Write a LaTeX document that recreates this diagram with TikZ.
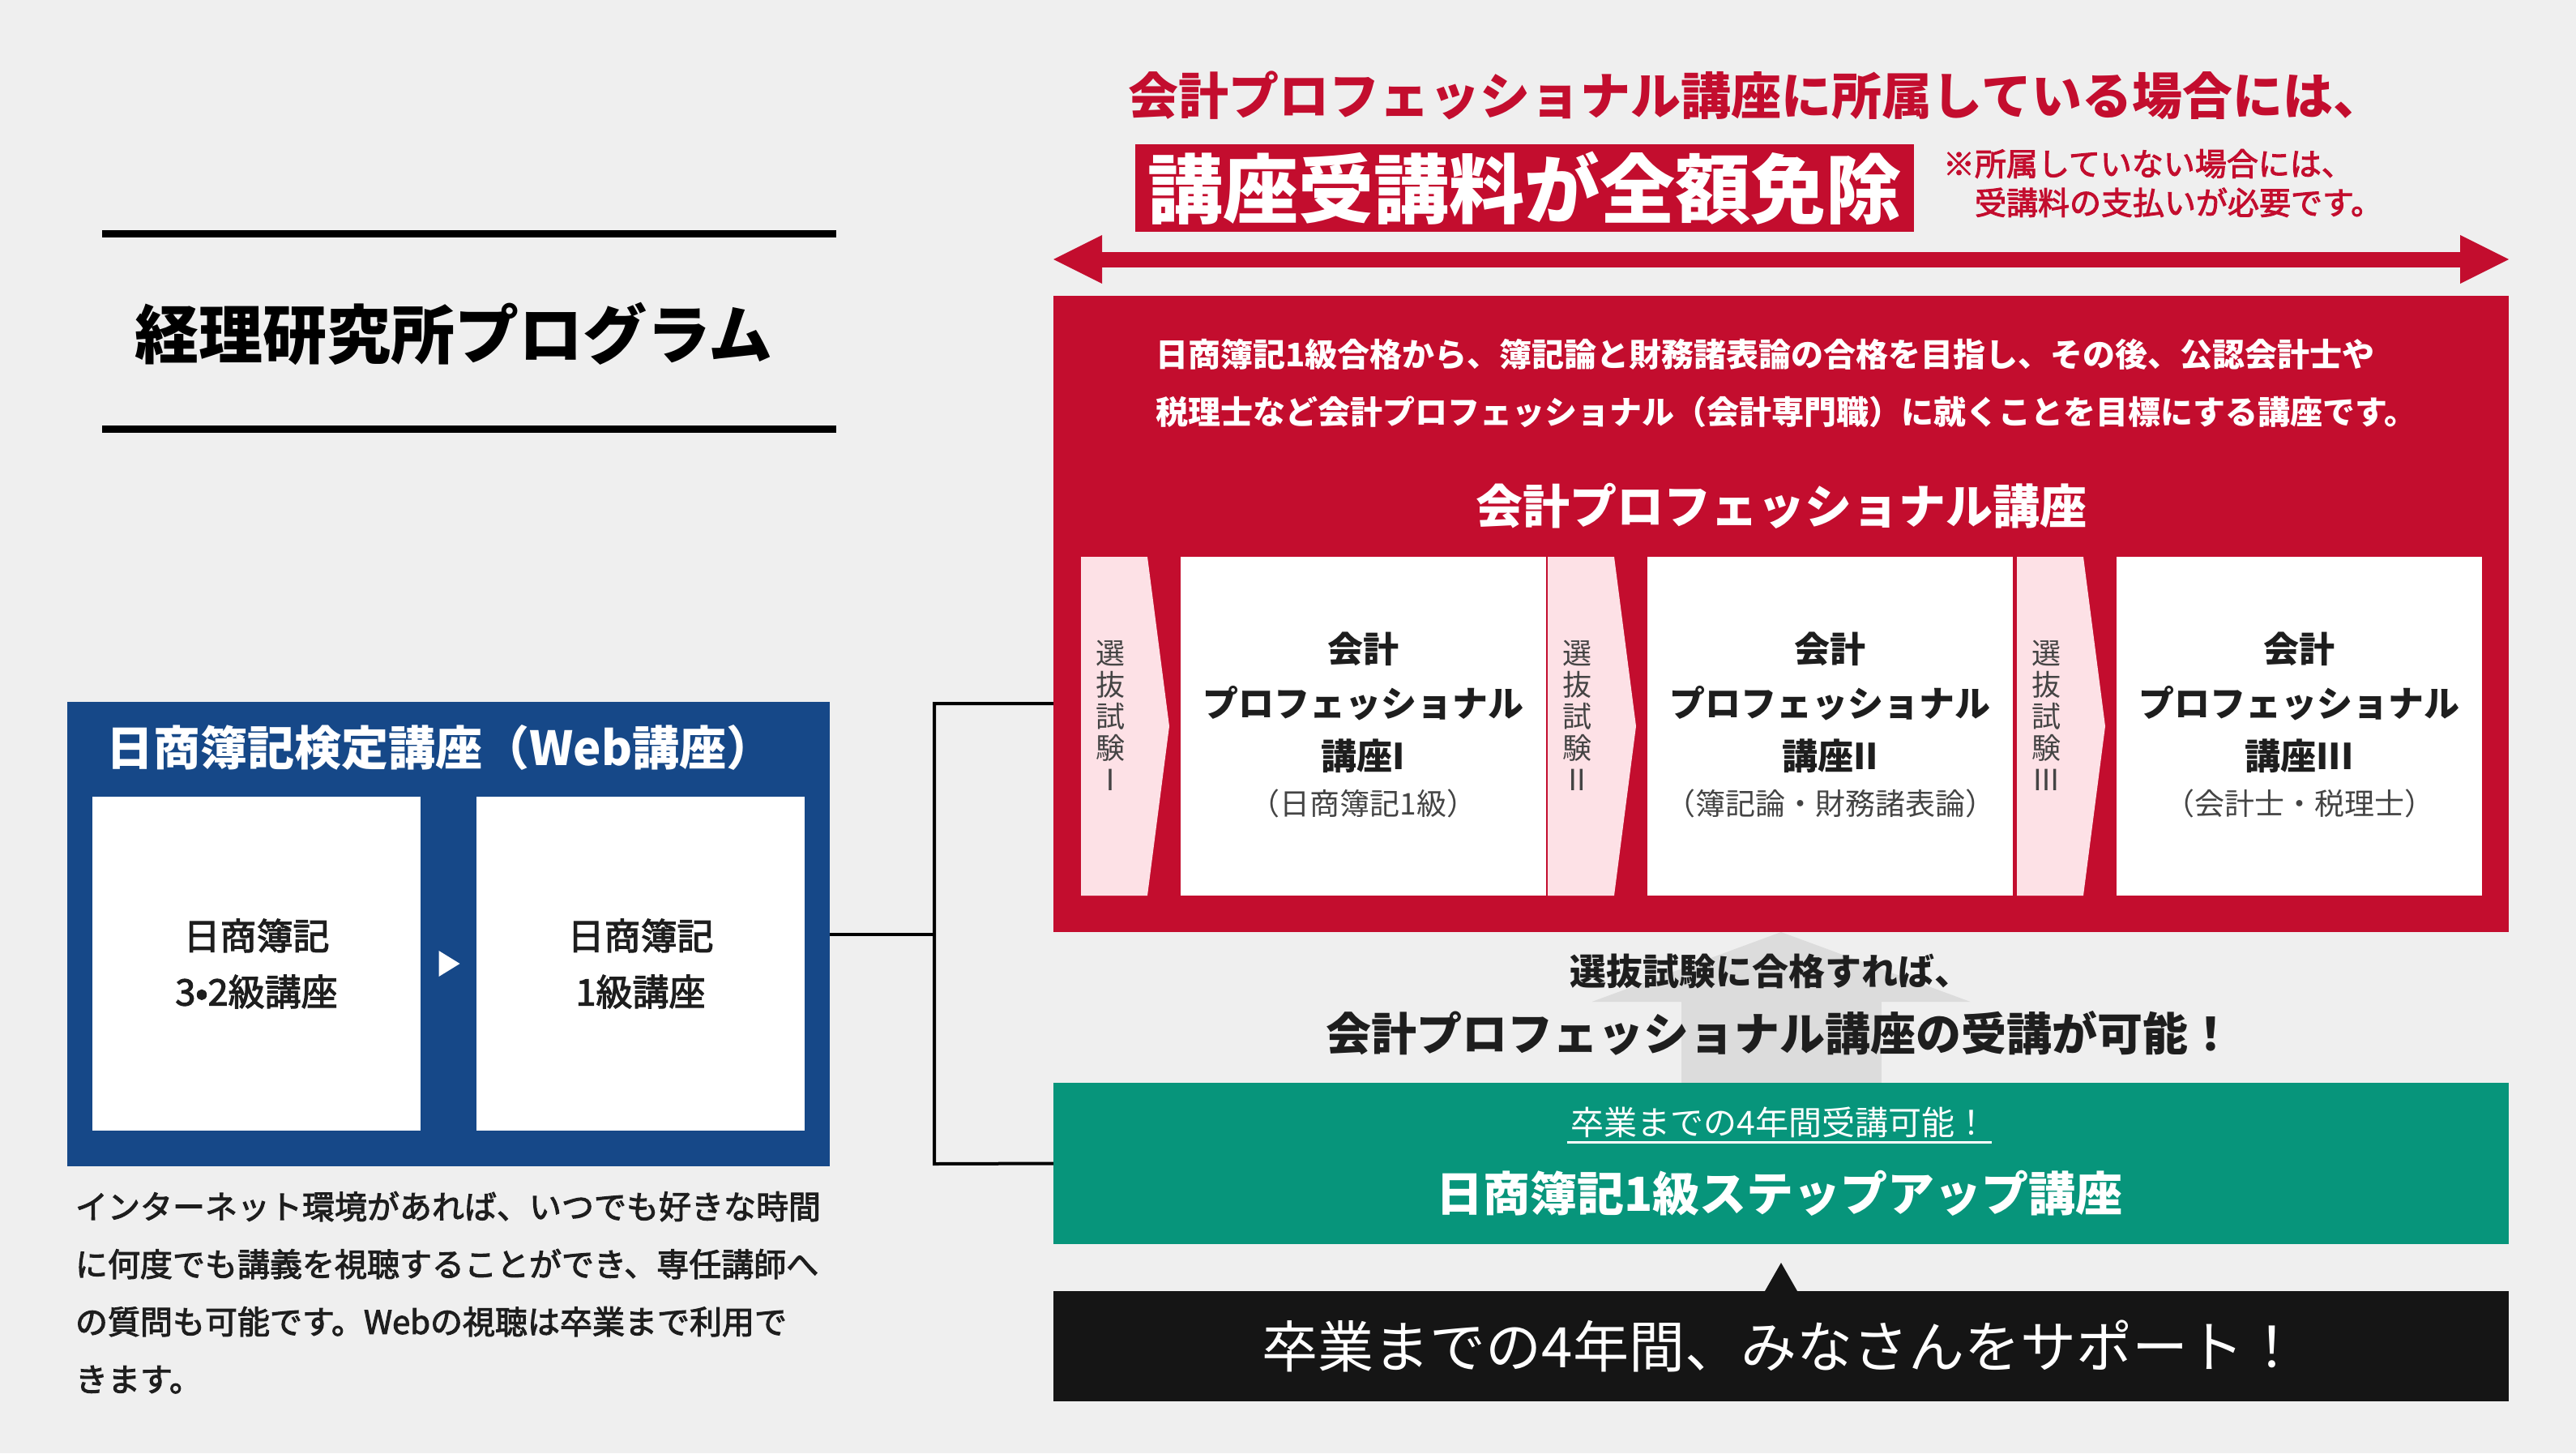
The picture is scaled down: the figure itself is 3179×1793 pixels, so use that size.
\documentclass[tikz,border=0pt]{standalone}
\usepackage{fontspec}
\setmainfont{Noto Sans CJK JP}
\newfontfamily\jpmed{Noto Sans CJK JP}[FakeBold=2.5]
\usepackage{xcolor}
\usetikzlibrary{arrows.meta,calc,positioning}

\definecolor{bggray}{HTML}{EFEFEF}
\definecolor{kured}{HTML}{C30D2E}
\definecolor{kupink}{HTML}{FDE1E6}
\definecolor{kublue}{HTML}{164888}
\definecolor{kugreen}{HTML}{07957B}
\definecolor{kublack}{HTML}{151515}
\definecolor{kuarrow}{HTML}{DCDCDC}
\definecolor{kutext}{HTML}{1E1E1E}
\definecolor{kusub}{HTML}{444444}
\newcommand\fsz[2]{\fontsize{#1}{#2}\selectfont}

\begin{document}
\begin{tikzpicture}[x=1pt,y=-1pt,
  every node/.style={inner sep=0pt,outer sep=0pt},
  panel/.style={rectangle,anchor=north west},
  whitecard/.style={panel,fill=white,minimum width=405pt,minimum height=412pt,
    align=center,text=kutext,font=\jpmed\fsz{45}{69}},
  stagecard/.style={panel,fill=white,minimum width=451pt,minimum height=418pt},
  stagehead/.style={text=kutext,font=\fsz{44}{50}\bfseries},
  stagesub/.style={text=kusub,font=\fsz{37}{42}},
  seltext/.style={align=center,text=kusub,font=\fsz{36}{39}},
  link/.style={draw=black,line width=4pt},
  rule/.style={line width=9pt},
]
% background
\fill[bggray] (0,0) rectangle (3179,1793);
\useasboundingbox (0,0) rectangle (3179,1793);

% title
\draw[rule] (126,288) -- (1032,288);
\draw[rule] (126,529) -- (1032,529);
\node[font=\fsz{79}{90}\bfseries] (title) at (560,412) {経理研究所プログラム};

% web course
\node[panel,fill=kublue,minimum width=941pt,minimum height=573pt] (blue) at (83,866) {};
\node[text=white,font=\fsz{58}{66}\bfseries] (bluehead) at (543,922) {日商簿記検定講座（Web講座）};
\node[whitecard] (b32) at (114,983) {日商簿記\\3•2級講座};
\node[whitecard] (b1) at (588,983) {日商簿記\\1級講座};
\fill[white] ($(b32.east)!0.5!(b1.west)+(-12,-16)$) -- ++(26,16) -- ++(-26,16) -- cycle;
\node[panel,align=left,text=kutext,font=\jpmed\fsz{40}{71}] (note) at (93,1470)
  {インターネット環境があれば、いつでも好きな時間\\に何度でも講義を視聴することができ、専任講師へ\\の質問も可能です。Webの視聴は卒業まで利用で\\きます。};

% professional course
\node[font=\fsz{62}{70}\bfseries,text=kured] (headline) at (2167,118) {会計プロフェッショナル講座に所属している場合には、};
\node[panel,fill=kured,minimum width=961pt,minimum height=108pt,text=white,font=\fsz{93}{100}\bfseries] (free) at (1401,178) {講座受講料が全額免除};
\node[panel,align=left,text=kured,font=\jpmed\fsz{39}{48}] (aside) at (2398,184) {※所属していない場合には、\\\hspace*{1em}受講料の支払いが必要です。};

\node[panel,fill=kured,minimum width=1796pt,minimum height=785pt] (red) at (1300,365) {};
\draw[kured,line width=19pt,{Triangle[length=60pt,width=60pt,line width=0pt]}-{Triangle[length=60pt,width=60pt,line width=0pt]}]
  ([yshift=45pt]red.north west) -- ([yshift=45pt]red.north east);
\node[panel,align=left,text=white,font=\fsz{40}{71}\bfseries] (about) at (1426,418)
  {日商簿記1級合格から、簿記論と財務諸表論の合格を目指し、その後、公認会計士や\\税理士など会計プロフェッショナル（会計専門職）に就くことを目標にする講座です。};
\node[text=white,font=\fsz{58}{66}\bfseries] (prohead) at (2198,624) {会計プロフェッショナル講座};

\foreach \n/\sx/\rn/\ln/\sub in {1/1334/Ⅰ/I/（日商簿記1級）,2/1910/Ⅱ/II/（簿記論・財務諸表論）,3/2489/Ⅲ/III/（会計士・税理士）}{
  \fill[kupink] (\sx,687) -- ++(82,0) -- ++(27,209) -- ++(-27,209) -- ++(-82,0) -- cycle;
  \node[seltext] (sel\n) at (\sx+36,883) {選\\抜\\試\\験\\\rn};
  \node[stagecard] (stage\n) at (\sx+123,687) {};
  \node[stagehead] (stage\n-top) at ([yshift=95pt]stage\n.center) {会計};
  \node[stagehead] (stage\n-mid) at ([yshift=28pt]stage\n.center) {プロフェッショナル};
  \node[stagehead] (stage\n-name) at ([yshift=-37pt]stage\n.center) {講座\ln};
  \node[stagesub] (stage\n-sub) at ([yshift=-95pt]stage\n.center) {\sub};
}

% step-up course
\node[panel,fill=kugreen,minimum width=1796pt,minimum height=199pt] (green) at (1300,1336) {};
\node[text=white,font=\fsz{41}{46},inner xsep=5pt,inner ysep=6pt] (greensub) at (2196,1385) {卒業までの4年間受講可能！};
\draw[white,line width=3pt] (greensub.south west) -- (greensub.south east);
\node[text=white,font=\fsz{58}{66}\bfseries] (stepup) at (2196,1472) {日商簿記1級ステップアップ講座};

\draw[kuarrow,line width=247pt,-{Triangle[length=86pt,width=467pt,line width=0pt]}] (green.north) -- (red.south);
\node[text=kutext,font=\fsz{45}{50}\bfseries] (pass) at (2185,1198) {選抜試験に合格すれば、};
\node[text=kutext,font=\fsz{56}{62}\bfseries] (enable) at (2196,1275) {会計プロフェッショナル講座の受講が可能！};

% support
\node[panel,fill=kublack,minimum width=1796pt,minimum height=136pt,text=white,font=\fsz{69}{76}] (support) at (1300,1593) {卒業までの4年間、みなさんをサポート！};
\fill[kublack] ([xshift=-20pt]support.north) -- ([yshift=35pt]support.north) -- ([xshift=20pt]support.north) -- cycle;

% links
\coordinate (jtop) at (1153,868);
\coordinate (jbot) at (1153,1436);
\draw[link] (blue.east) -- (blue.east -| jtop);
\draw[link] (red.west |- jtop) -- (jtop) -- (jbot) -- (green.west);
\end{tikzpicture}
\end{document}
